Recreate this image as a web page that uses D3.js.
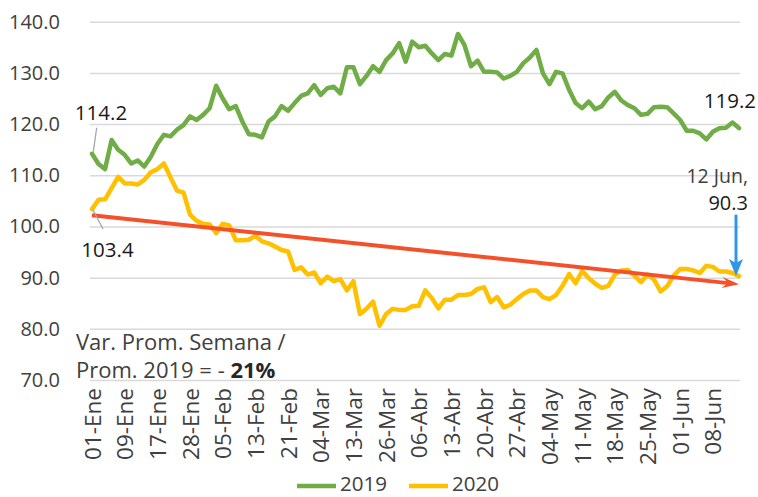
<!DOCTYPE html>
<html>
<head>
<meta charset="utf-8">
<script src="https://cdn.jsdelivr.net/npm/d3@7/dist/d3.min.js"></script>
<style>
  html, body { margin: 0; padding: 0; background: #fff; }
  svg { display: block; font-family: "Open Sans", "Noto Sans", sans-serif; }
</style>
</head>
<body>
<svg id="chart" width="758" height="497"></svg>
<script>
const tickLabels = ["01-Ene","09-Ene","17-Ene","28-Ene","05-Feb","13-Feb","21-Feb","04-Mar","13-Mar","26-Mar",
  "06-Abr","13-Abr","20-Abr","27-Abr","04-May","11-May","18-May","25-May","01-Jun","08-Jun"];
const yTicks = [70, 80, 90, 100, 110, 120, 130, 140];
const series2019 = [114.2,112.2,111.2,116.9,115.0,114.0,112.3,112.9,111.7,113.6,
  116.1,117.9,117.6,118.9,119.8,121.5,120.8,121.8,123.1,127.5,
  125.0,122.9,123.5,120.5,118.0,117.9,117.4,120.5,121.5,123.5,
  122.6,124.1,125.5,126.0,127.6,125.7,127.0,127.3,126.0,131.1,
  131.1,127.8,129.4,131.3,130.2,132.5,133.8,135.8,132.2,136.1,
  135.0,135.3,133.8,132.5,133.7,133.4,137.6,135.4,131.3,132.4,
  130.2,130.2,130.1,128.9,129.4,130.2,131.9,133.0,134.5,129.9,
  127.8,130.2,129.9,126.7,124.1,123.1,124.4,122.9,123.5,125.2,
  126.3,124.6,123.7,123.1,121.8,122.0,123.3,123.4,123.3,122.1,
  120.8,118.7,118.7,118.2,117.0,118.5,119.2,119.3,120.3,119.2];
const series2020 = [103.4,105.2,105.3,107.5,109.7,108.4,108.4,108.2,109.1,110.6,
  111.2,112.3,109.6,107.0,106.6,102.3,101.1,100.5,100.4,98.7,
  100.5,100.2,97.3,97.3,97.4,98.2,97.1,96.7,96.1,95.4,
  95.1,91.5,92.0,90.6,91.0,88.9,90.2,89.3,89.7,87.5,
  89.3,82.9,83.9,85.3,80.6,82.9,83.9,83.7,83.7,84.4,
  84.5,87.5,86.0,84.0,85.7,85.7,86.6,86.6,86.8,87.8,
  88.1,85.2,86.2,84.2,84.7,85.8,86.8,87.5,87.5,86.2,
  85.8,86.6,88.4,90.7,88.9,91.3,89.9,88.8,88.0,88.4,
  90.6,91.4,91.5,90.4,89.1,90.6,89.6,87.3,88.3,90.4,
  91.7,91.7,91.4,90.9,92.3,92.1,91.2,91.2,90.9,90.3];
const trendValues = [102.2, 88.7];
const seriesNames = ["2019", "2020"];
const lastDateLabel = "12 Jun,";
const noteLine1 = "Var. Prom. Semana /";
const noteLine2a = "Prom. 2019 = - ";
const noteLine2b = "21%";

const colors = { g: "#70AD47", y: "#FFC000", trend: "#F4502A", blue: "#2F97E6", grid: "#D9D9D9", text: "#404040" };

const svg = d3.select("#chart");
const categories = d3.range(series2019.length);
const x = d3.scalePoint().domain(categories).range([92, 739]);
const y = d3.scaleLinear().domain([70, 140]).range([380, 21.7]);

// gridlines
const grid = svg.append("g").attr("transform", "translate(90,0)")
  .call(d3.axisLeft(y).tickValues(yTicks).tickSize(-650).tickFormat(""));
grid.select(".domain").remove();
grid.selectAll("line").attr("stroke", colors.grid).attr("stroke-width", 1.5);

// y labels
const yAx = svg.append("g").attr("transform", "translate(90,0)")
  .call(d3.axisLeft(y).tickValues(yTicks).tickSize(0).tickPadding(30).tickFormat(d3.format(".1f")));
yAx.select(".domain").remove();
yAx.selectAll("text").attr("font-size", 20).attr("fill", colors.text).attr("font-family", "Open Sans");

// x labels
const xAx = svg.append("g").attr("transform", "translate(0,388)")
  .call(d3.axisBottom(x).tickValues(categories.filter(i => i % 5 === 0)).tickSize(0)
    .tickFormat(i => tickLabels[i / 5]));
xAx.select(".domain").remove();
xAx.selectAll("text")
  .attr("font-size", 22.5).attr("fill", colors.text).attr("font-family", "Open Sans")
  .attr("transform", "rotate(-90)").attr("text-anchor", "end")
  .attr("x", 0).attr("y", 0).attr("dy", "0.36em").attr("dx", 0);

// lines
const line = d3.line().x((d, i) => x(i)).y(d => y(d));
svg.append("path").datum(series2019).attr("d", line).attr("fill", "none")
  .attr("stroke", colors.g).attr("stroke-width", 4.5).attr("stroke-linejoin", "round").attr("stroke-linecap", "round");
svg.append("path").datum(series2020).attr("d", line).attr("fill", "none")
  .attr("stroke", colors.y).attr("stroke-width", 4.5).attr("stroke-linejoin", "round").attr("stroke-linecap", "round");

// trend line with arrow head
const last = categories.length - 1;
const tx0 = x(0), ty0 = y(trendValues[0]), tx1 = x(last), ty1 = y(trendValues[1]);
const ang = Math.atan2(ty1 - ty0, tx1 - tx0);
const headLen = 17, headW = 5.5, notch = 6;
const bx = tx1 - headLen * Math.cos(ang), by = ty1 - headLen * Math.sin(ang);
svg.append("line").attr("x1", tx0).attr("y1", ty0)
  .attr("x2", tx1 - (headLen - notch) * Math.cos(ang)).attr("y2", ty1 - (headLen - notch) * Math.sin(ang))
  .attr("stroke", colors.trend).attr("stroke-width", 4);
const px = -Math.sin(ang), py = Math.cos(ang);
svg.append("path").attr("fill", colors.trend).attr("d",
  `M${tx1},${ty1} L${bx + px * headW},${by + py * headW} L${tx1 - (headLen - notch) * Math.cos(ang)},${ty1 - (headLen - notch) * Math.sin(ang)} L${bx - px * headW},${by - py * headW} Z`);

// blue arrow to last 2020 point
const ax = x(last) - 3, ayTip = y(series2020[last]), ayTop = y(102.3);
svg.append("line").attr("x1", ax).attr("y1", ayTop).attr("x2", ax).attr("y2", ayTip - 12)
  .attr("stroke", colors.blue).attr("stroke-width", 3);
svg.append("path").attr("fill", colors.blue)
  .attr("d", `M${ax},${ayTip} L${ax - 7},${ayTip - 17} L${ax},${ayTip - 13} L${ax + 7},${ayTip - 17} Z`);

// data labels
const lbl = (t, xx, yy, anchor, col, size) => svg.append("text").attr("x", xx).attr("y", yy)
  .attr("text-anchor", anchor).attr("font-size", size || 20.5).attr("fill", col || "#1a1a1a").text(t);

const g0x = x(0), g0y = y(series2019[0]);
svg.append("line").attr("x1", g0x + 1.3).attr("y1", g0y - 2).attr("x2", g0x + 4.7).attr("y2", g0y - 26)
  .attr("stroke", "#A6A6A6").attr("stroke-width", 1.3);
lbl(d3.format(".1f")(series2019[0]), g0x + 9, g0y - 34, "middle");

const y0x = x(0), y0y = y(series2020[0]);
svg.append("line").attr("x1", y0x + 1).attr("y1", y0y + 1).attr("x2", y0x + 11).attr("y2", y0y + 20)
  .attr("stroke", "#A6A6A6").attr("stroke-width", 1.3);
lbl(d3.format(".1f")(series2020[0]), y0x + 15.5, y0y + 48, "middle");

lbl(d3.format(".1f")(series2019[last]), 756, y(series2019[last]) - 20, "end");

// last-point callout
lbl(lastDateLabel, 748, 183, "end", colors.text, 19.5);
lbl(d3.format(".1f")(series2020[last]), 748, 210, "end", "#1a1a1a", 20);

// note
const note = svg.append("text").attr("font-size", 22).attr("fill", colors.text);
note.append("tspan").attr("x", 76).attr("y", 350).text(noteLine1);
note.append("tspan").attr("x", 76).attr("dy", 28).text(noteLine2a);
note.append("tspan").attr("font-weight", "bold").attr("fill", "#262626").text(noteLine2b);

// legend
const legend = svg.append("g");
const legItems = [{ name: seriesNames[0], c: colors.g, x: 297 }, { name: seriesNames[1], c: colors.y, x: 409 }];
legItems.forEach(it => {
  legend.append("line").attr("x1", it.x).attr("x2", it.x + 39).attr("y1", 486).attr("y2", 486)
    .attr("stroke", it.c).attr("stroke-width", 4.5);
  legend.append("text").attr("x", it.x + 43).attr("y", 491).attr("font-size", 20.5).attr("fill", colors.text).text(it.name);
});
</script>
</body>
</html>
